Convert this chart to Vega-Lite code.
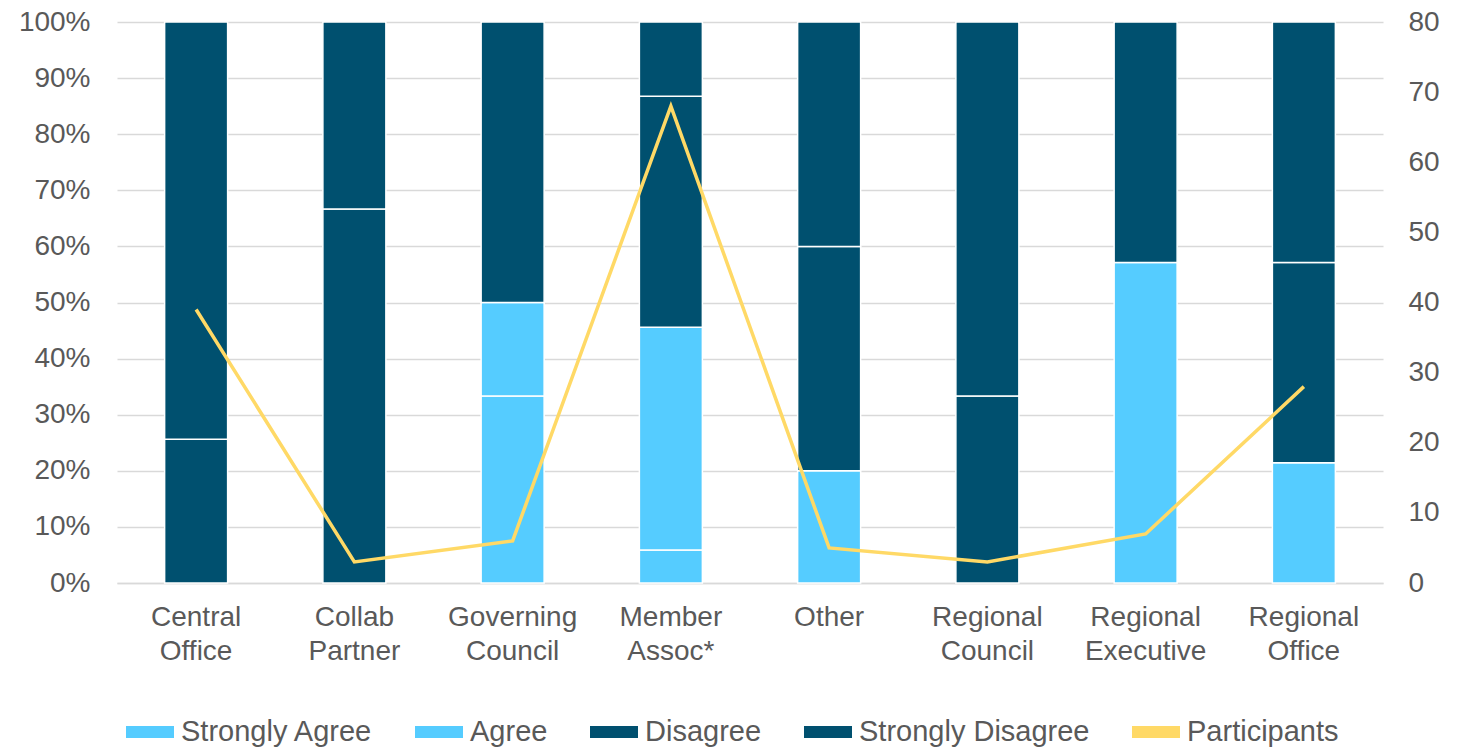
{
  "$schema": "https://vega.github.io/schema/vega-lite/v6.json",
  "width": 1266,
  "height": 561,
  "autosize": {"type": "none"},
  "padding": {"left": 117, "top": 22, "right": 85, "bottom": 165},
  "background": "white",
  "config": {
    "view": {"stroke": null},
    "font": "Liberation Sans",
    "axis": {
      "labelFont": "Liberation Sans",
      "labelFontSize": 28,
      "labelColor": "#595959",
      "ticks": false,
      "title": null
    }
  },
  "datasets": {
    "responses": [
      {"group": "Central Office", "response": "Disagree", "level": 3, "count": 10},
      {"group": "Central Office", "response": "Strongly Disagree", "level": 4, "count": 29},
      {"group": "Collab Partner", "response": "Disagree", "level": 3, "count": 2},
      {"group": "Collab Partner", "response": "Strongly Disagree", "level": 4, "count": 1},
      {"group": "Governing Council", "response": "Strongly Agree", "level": 1, "count": 2},
      {"group": "Governing Council", "response": "Agree", "level": 2, "count": 1},
      {"group": "Governing Council", "response": "Disagree", "level": 3, "count": 3},
      {"group": "Member Assoc*", "response": "Strongly Agree", "level": 1, "count": 4},
      {"group": "Member Assoc*", "response": "Agree", "level": 2, "count": 27},
      {"group": "Member Assoc*", "response": "Disagree", "level": 3, "count": 28},
      {"group": "Member Assoc*", "response": "Strongly Disagree", "level": 4, "count": 9},
      {"group": "Other", "response": "Agree", "level": 2, "count": 1},
      {"group": "Other", "response": "Disagree", "level": 3, "count": 2},
      {"group": "Other", "response": "Strongly Disagree", "level": 4, "count": 2},
      {"group": "Regional Council", "response": "Disagree", "level": 3, "count": 1},
      {"group": "Regional Council", "response": "Strongly Disagree", "level": 4, "count": 2},
      {"group": "Regional Executive", "response": "Agree", "level": 2, "count": 4},
      {"group": "Regional Executive", "response": "Disagree", "level": 3, "count": 3},
      {"group": "Regional Office", "response": "Agree", "level": 2, "count": 6},
      {"group": "Regional Office", "response": "Disagree", "level": 3, "count": 10},
      {"group": "Regional Office", "response": "Strongly Disagree", "level": 4, "count": 12}
    ],
    "participants": [
      {"group": "Central Office", "participants": 39},
      {"group": "Collab Partner", "participants": 3},
      {"group": "Governing Council", "participants": 6},
      {"group": "Member Assoc*", "participants": 68},
      {"group": "Other", "participants": 5},
      {"group": "Regional Council", "participants": 3},
      {"group": "Regional Executive", "participants": 7},
      {"group": "Regional Office", "participants": 28}
    ]
  },
  "encoding": {
    "x": {
      "field": "group",
      "type": "nominal",
      "sort": null,
      "scale": {
        "domain": ["Central Office", "Collab Partner", "Governing Council", "Member Assoc*", "Other", "Regional Council", "Regional Executive", "Regional Office"],
        "paddingInner": 0,
        "paddingOuter": 0
      },
      "axis": {
        "labelAngle": 0,
        "labelExpr": "split(datum.label, ' ')",
        "labelLineHeight": 34,
        "labelPadding": 20,
        "labelBaseline": "top",
        "labelLimit": 300,
        "domainColor": "#D9D9D9",
        "domainWidth": 1.5,
        "grid": false
      }
    }
  },
  "layer": [
    {
      "data": {"name": "responses"},
      "mark": {"type": "bar", "size": 63, "stroke": "white", "strokeWidth": 1.5},
      "encoding": {
        "y": {
          "field": "count",
          "type": "quantitative",
          "stack": "normalize",
          "scale": {"domain": [0, 1]},
          "axis": {
            "format": "%",
            "values": [0, 0.1, 0.2, 0.3, 0.4, 0.5, 0.6, 0.7, 0.8, 0.9, 1],
            "domain": false,
            "grid": true,
            "gridColor": "#D9D9D9",
            "gridWidth": 1.5,
            "labelPadding": 27
          }
        },
        "order": {"field": "level", "type": "quantitative", "sort": "ascending"},
        "color": {
          "field": "response",
          "type": "nominal",
          "scale": {
            "domain": ["Strongly Agree", "Agree", "Disagree", "Strongly Disagree", "Participants"],
            "range": ["#55CCFF", "#55CCFF", "#00506F", "#00506F", "#FFD966"]
          },
          "legend": {
            "orient": "none",
            "legendX": 9,
            "legendY": 686,
            "direction": "horizontal",
            "title": null,
            "symbolType": "M-1,-0.25H1V0.25H-1Z",
            "symbolSize": 2304,
            "symbolStrokeWidth": 0,
            "symbolOpacity": 1,
            "labelFont": "Liberation Sans",
            "labelFontSize": 29,
            "labelColor": "#595959",
            "labelLimit": 400,
            "labelOffset": 7,
            "columnPadding": 42,
            "encode": {
              "symbols": {
                "update": {
                  "shape": {"signal": "datum.value === 'Participants' ? 'M-1.1,-0.08H1.05V0.08H-1.1Z' : 'M-1,-0.25H1V0.25H-1Z'"},
                  "fill": {"scale": "color", "field": "value"},
                  "strokeWidth": {"value": 0},
                  "opacity": {"value": 1}
                }
              }
            }
          }
        }
      }
    },
    {
      "data": {"name": "participants"},
      "mark": {"type": "line", "strokeWidth": 3.5},
      "encoding": {
        "y": {
          "field": "participants",
          "type": "quantitative",
          "scale": {"domain": [0, 80]},
          "axis": {
            "orient": "right",
            "values": [0, 10, 20, 30, 40, 50, 60, 70, 80],
            "domain": false,
            "grid": false,
            "labelPadding": 25
          }
        },
        "color": {"datum": "Participants"}
      }
    }
  ],
  "resolve": {"scale": {"y": "independent"}}
}
